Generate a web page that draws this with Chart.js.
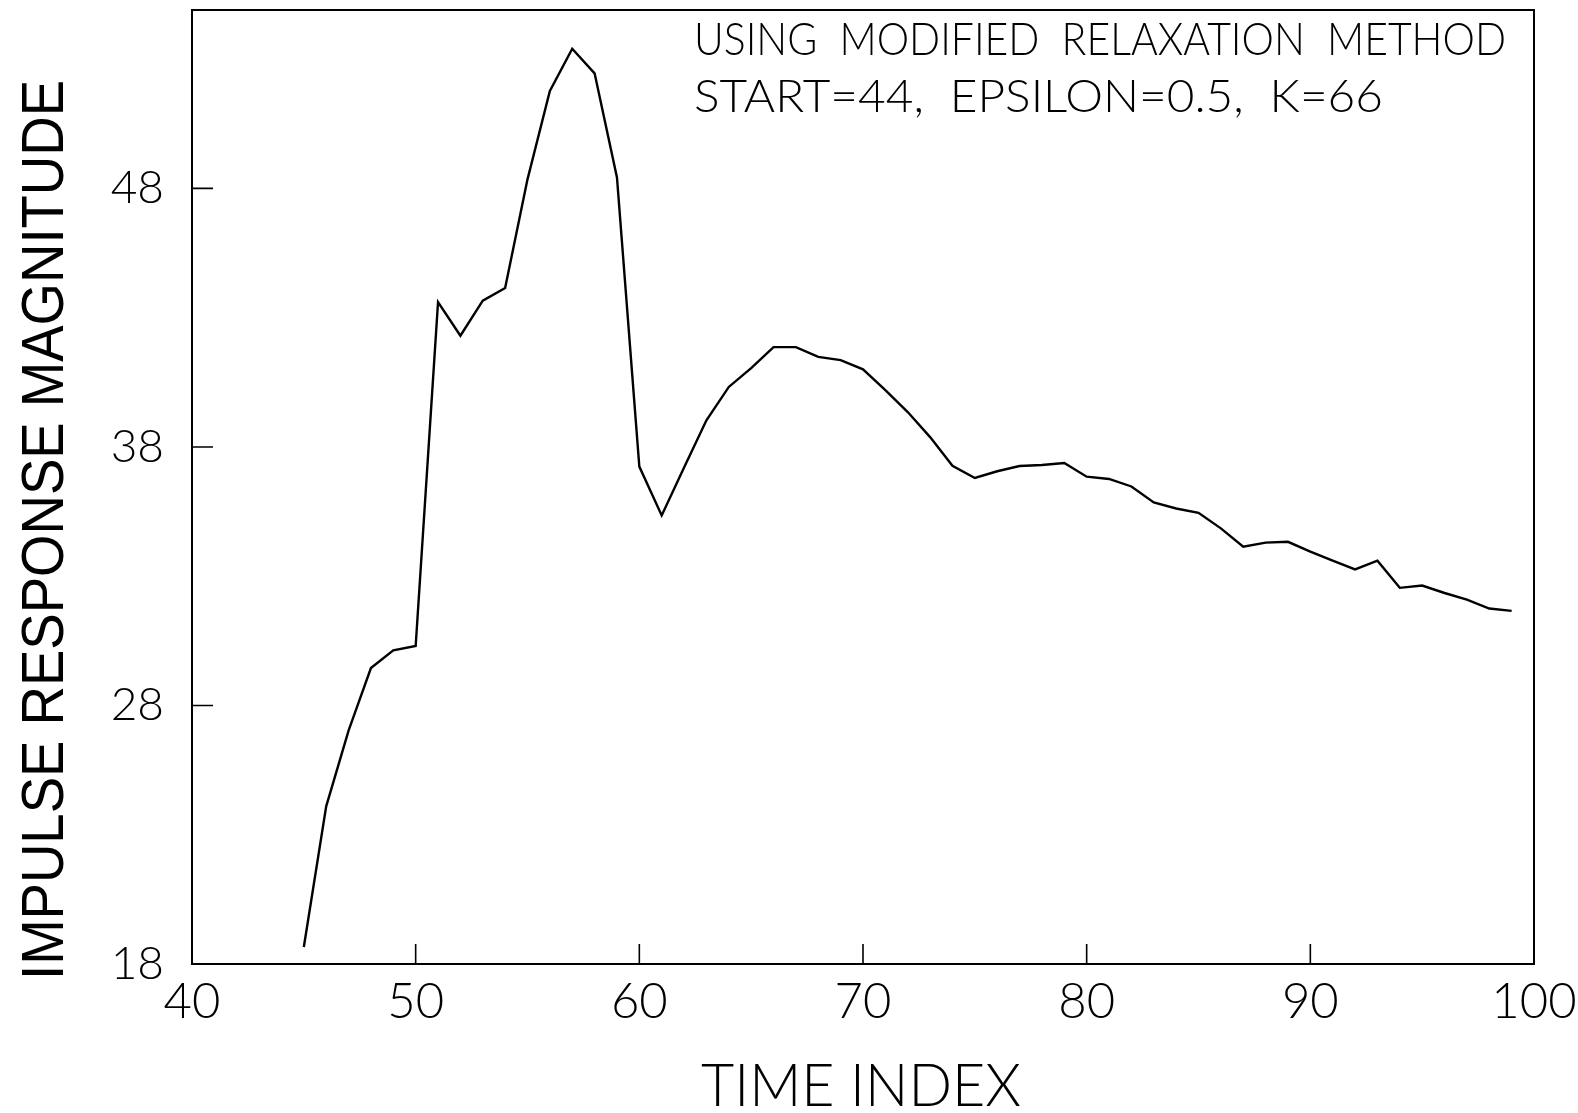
<!DOCTYPE html>
<html>
<head>
<meta charset="utf-8">
<script src="https://cdn.jsdelivr.net/npm/chart.js@4.4.1/dist/chart.umd.min.js"></script>
<style>
  html, body { margin: 0; padding: 0; background: #fff; }
  #wrap { width: 1578px; height: 1113px; }
</style>
</head>
<body>
<div id="wrap"><canvas id="c" width="1578" height="1113"></canvas></div>
<script>
// Time indices and the impulse response magnitude at each one
const timeIndex = [45, 46, 47, 48, 49, 50, 51, 52, 53, 54,
                   55, 56, 57, 58, 59, 60, 61, 62, 63, 64,
                   65, 66, 67, 68, 69, 70, 71, 72, 73, 74,
                   75, 76, 77, 78, 79, 80, 81, 82, 83, 84,
                   85, 86, 87, 88, 89, 90, 91, 92, 93, 94,
                   95, 96, 97, 98, 99];
const magnitude = [18.66, 24.10, 27.03, 29.45, 30.13, 30.30, 43.60, 42.30, 43.66, 44.15,
                   48.35, 51.77, 53.40, 52.45, 48.42, 37.24, 35.35, 37.20, 39.03, 40.32,
                   41.05, 41.86, 41.86, 41.48, 41.36, 41.00, 40.20, 39.35, 38.38, 37.27,
                   36.80, 37.06, 37.26, 37.30, 37.38, 36.85, 36.76, 36.47, 35.85, 35.62,
                   35.45, 34.85, 34.14, 34.30, 34.33, 33.95, 33.60, 33.26, 33.60, 32.55,
                   32.64, 32.35, 32.09, 31.75, 31.66];

// Axis ranges and tick labels
const xTicks = [40, 50, 60, 70, 80, 90, 100];
const yTicks = [18, 28, 38, 48];
const xRange = [40, 100];
const yRange = [18, 54.9];

// Texts
const xTitle = 'TIME INDEX';
const yTitle = 'IMPULSE RESPONSE MAGNITUDE';
const noteLines = ['USING  MODIFIED  RELAXATION  METHOD', 'START=44,  EPSILON=0.5,  K=66'];

const points = timeIndex.map((t, i) => ({ x: t, y: magnitude[i] }));

// Draws text squeezed horizontally to a given width (plotter-style lettering)
function fitText(ctx, text, x, y, width, font, align, angle) {
  ctx.save();
  ctx.font = font;
  const w = ctx.measureText(text).width;
  ctx.translate(x, y);
  if (angle) ctx.rotate(angle);
  ctx.scale(width / w, 1);
  ctx.textAlign = align;
  ctx.textBaseline = 'alphabetic';
  ctx.fillStyle = '#000';
  ctx.fillText(text, 0, 0);
  ctx.restore();
}

const framePlugin = {
  id: 'frame',
  afterDraw(chart) {
    const ctx = chart.ctx;
    const a = chart.chartArea;
    const xs = chart.scales.x, ys = chart.scales.y;
    ctx.save();
    ctx.strokeStyle = '#000';
    ctx.lineWidth = 2;
    ctx.strokeRect(a.left, a.top, a.right - a.left, a.bottom - a.top);
    // inward tick marks
    ctx.lineWidth = 1.6;
    ctx.beginPath();
    xTicks.slice(1, -1).forEach(v => {
      const px = xs.getPixelForValue(v);
      ctx.moveTo(px, a.bottom);
      ctx.lineTo(px, a.bottom - 20);
    });
    yTicks.slice(1).forEach(v => {
      const py = ys.getPixelForValue(v);
      ctx.moveTo(a.left, py);
      ctx.lineTo(a.left + 21, py);
    });
    ctx.stroke();
    ctx.restore();

    // axis titles
    fitText(ctx, xTitle, 861, 1106, 320, '300 60px Lato', 'center', 0);
    fitText(ctx, yTitle, 63, 530, 900, '400 59px "Liberation Sans"', 'center', -Math.PI / 2);
    // method note
    fitText(ctx, noteLines[0], 694, 55, 812, '300 46px Lato', 'left', 0);
    fitText(ctx, noteLines[1], 694, 112, 689, '300 46px Lato', 'left', 0);
  }
};

new Chart(document.getElementById('c'), {
  type: 'line',
  data: {
    datasets: [{
      data: points,
      borderColor: '#000',
      borderWidth: 2.4,
      pointRadius: 0,
      tension: 0,
      fill: false
    }]
  },
  options: {
    responsive: false,
    animation: false,
    devicePixelRatio: 1,
    layout: { padding: { left: 0, right: 44, top: 10, bottom: 0 } },
    plugins: { legend: { display: false }, tooltip: { enabled: false } },
    scales: {
      x: {
        type: 'linear',
        min: xRange[0], max: xRange[1],
        afterBuildTicks: s => { s.ticks = xTicks.map(v => ({ value: v })); },
        afterFit: s => { s.height = 149; s.paddingLeft = 0; s.paddingRight = 0; },
        grid: { display: false, drawTicks: false },
        border: { display: false },
        ticks: {
          padding: 9,
          color: '#000',
          maxRotation: 0,
          autoSkip: false,
          font: { family: 'Lato', weight: '300', size: 49 }
        }
      },
      y: {
        type: 'linear',
        min: yRange[0], max: yRange[1],
        afterBuildTicks: s => { s.ticks = yTicks.map(v => ({ value: v })); },
        afterFit: s => { s.width = 192; s.paddingTop = 0; s.paddingBottom = 0; },
        grid: { display: false, drawTicks: false },
        border: { display: false },
        ticks: {
          padding: 28,
          color: '#000',
          autoSkip: false,
          font: { family: 'Lato', weight: '300', size: 46 }
        }
      }
    }
  },
  plugins: [framePlugin]
});
</script>
</body>
</html>
